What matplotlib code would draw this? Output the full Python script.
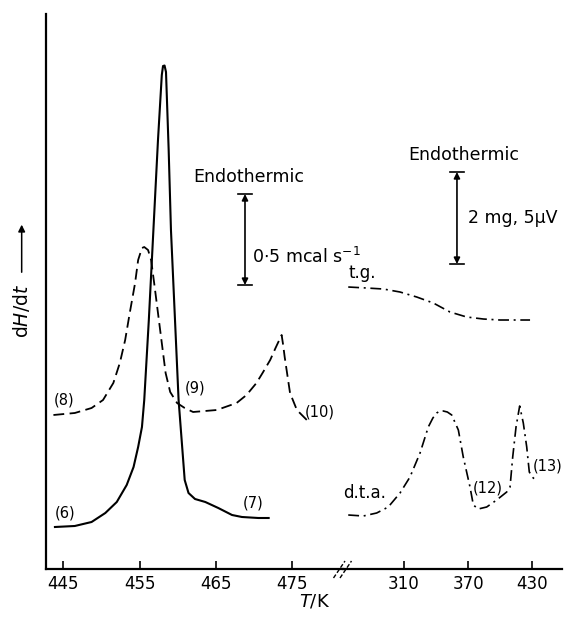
import matplotlib
matplotlib.use("Agg")
import matplotlib.pyplot as plt

plt.rcParams['font.family'] = ['DejaVu Sans']

# ---- data (T in K, signal in arbitrary units) ----
# run (6)-(7), solid
T_solid = [443.9, 446.5, 448.7, 450.5, 452.0, 453.3, 454.2, 454.8, 455.3, 455.6,
           456.2, 456.8, 457.4, 457.9, 458.06, 458.26, 458.45, 458.8, 459.1, 459.6,
           460.1, 460.3, 460.6, 460.9, 461.4, 462.25, 463.6, 465.3, 467.1, 468.4,
           470.55, 471.9]
h_solid = [4.2, 4.3, 4.7, 5.6, 6.7, 8.4, 10.2, 12.2, 14.2, 16.9,
           24.9, 33.9, 42.9, 49.4, 50.3, 50.35, 49.7, 41.9, 33.9, 25.4,
           16.9, 14.9, 11.9, 8.9, 7.6, 7.0, 6.7, 6.1, 5.4, 5.2,
           5.1, 5.1]

# run (8)-(9)-(10), dashed
T_dash = [443.7, 446.5, 448.7, 450.2, 451.55, 452.4, 453.1, 453.7, 454.4, 454.8,
          455.3, 455.6, 456.1, 456.5, 456.9, 457.4, 457.9, 458.4, 459.0, 459.9,
          460.9, 462.0, 465.1, 467.7, 469.0, 470.3, 471.1, 472.1, 472.8, 473.6,
          473.8, 474.0, 474.7, 475.6, 476.9]
h_dash = [15.4, 15.6, 16.1, 16.9, 18.6, 20.6, 22.9, 25.6, 28.6, 30.9,
          32.1, 32.2, 31.9, 30.9, 28.6, 25.6, 22.6, 19.6, 17.7, 16.6,
          16.1, 15.7, 15.9, 16.6, 17.4, 18.6, 19.6, 20.9, 22.1, 23.4,
          22.4, 21.2, 17.6, 15.9, 14.9]

# t.g. trace
T_tg = [257.9, 275.1, 290.7, 306.3, 321.9, 337.4, 353.0, 368.6, 384.1, 399.7, 427.8]
h_tg = [28.2, 28.1, 28.0, 27.7, 27.2, 26.6, 25.7, 25.2, 25.0, 24.9, 24.9]

# d.t.a. trace
T_dta = [257.9, 272.0, 284.5, 295.3, 306.3, 315.6, 325.0, 332.7, 337.0, 340.6,
         343.6, 346.7, 350.5, 354.6, 360.8, 365.4, 371.7, 374.8, 379.4, 387.3,
         396.6, 406.0, 409.1, 411.6, 414.7, 418.1, 421.5, 424.7, 427.1, 430.8,
         434.6]
h_dta = [5.4, 5.3, 5.6, 6.2, 7.6, 9.2, 11.6, 14.2, 15.1, 15.6,
         15.8, 15.8, 15.7, 15.4, 13.9, 11.2, 8.2, 6.4, 6.0, 6.2,
         6.9, 7.7, 8.2, 11.2, 14.2, 16.3, 14.6, 12.2, 9.7, 9.1,
         8.8]

left_ticks = [445, 455, 465, 475]
right_ticks = [310, 370, 430]

fig = plt.figure(figsize=(5.66, 6.18), dpi=100)
axL = fig.add_axes([0.0813, 0.0793, 0.5247, 0.898])
axR = fig.add_axes([0.606, 0.0793, 0.387, 0.898])

for ax in (axL, axR):
    ax.set_ylim(0, 55.5)
    ax.set_yticks([])
    ax.spines['top'].set_visible(False)
    ax.spines['right'].set_visible(False)
    ax.spines['bottom'].set_linewidth(1.6)
    ax.tick_params(axis='x', direction='in', length=6, width=1.2,
                   labelsize=12, pad=4)
    ax.patch.set_alpha(0)
axL.spines['left'].set_linewidth(1.6)
axR.spines['left'].set_visible(False)

axL.set_xlim(442.73, 481.64)
axR.set_xlim(253.0, 457.7)
axL.set_xticks(left_ticks)
axR.set_xticks(right_ticks)

axL.plot(T_solid, h_solid, color='black', lw=1.5, solid_joinstyle='round')
axL.plot(T_dash, h_dash, color='black', lw=1.3, dashes=(6, 3))
axR.plot(T_tg, h_tg, color='black', lw=1.2, dashes=(6.5, 2.8, 1.2, 2.8))
axR.plot(T_dta, h_dta, color='black', lw=1.2, dashes=(6.5, 2.8, 1.2, 2.8))

# curve labels
lab = dict(fontsize=10.5, va='center', ha='left')
axL.text(443.7, 16.9, '(8)', **lab)
axL.text(460.9, 18.1, '(9)', **lab)
axL.text(476.6, 15.7, '(10)', **lab)
axL.text(443.9, 5.6, '(6)', **lab)
axL.text(468.5, 6.6, '(7)', **lab)
axR.text(374.5, 8.1, '(12)', **lab)
axR.text(430.6, 10.3, '(13)', clip_on=False, **lab)
axR.text(257.9, 29.6, 't.g.', fontsize=12, va='center', ha='left')
axR.text(253.4, 7.6, 'd.t.a.', fontsize=12, va='center', ha='left')

# scale bars
def scale_bar(ax, x, y0, y1, half):
    ax.annotate('', xy=(x, y1), xytext=(x, y0),
                arrowprops=dict(arrowstyle='<|-|>', color='black', lw=1.2,
                                shrinkA=0, shrinkB=0, mutation_scale=9))
    ax.plot([x - half, x + half], [y1, y1], color='black', lw=1.2)
    ax.plot([x - half, x + half], [y0, y0], color='black', lw=1.2)

scale_bar(axL, 468.8, 28.4, 37.5, 0.9)
axL.text(469.3, 38.3, 'Endothermic', fontsize=12.5, ha='center', va='bottom')
axL.text(469.7, 31.2, r'0$\cdot$5 mcal s$^{-1}$', fontsize=12.5, ha='left', va='center')

scale_bar(axR, 359.5, 30.5, 39.7, 6.5)
axR.text(365.6, 40.5, 'Endothermic', fontsize=12.5, ha='center', va='bottom')
axR.text(370.1, 35.1, '2 mg, 5\u03bcV', fontsize=12.5, ha='left', va='center')

# axis break marks
for dx in (0, 6.5):
    fig.add_artist(plt.Line2D([(333.5 + dx) / 566, (345 + dx) / 566],
                              [(618 - 578) / 618, (618 - 561) / 618],
                              color='black', lw=1.0, dashes=(3, 1.5)))

# axis labels
fig.text(0.555, 0.026, r'$T$/K', fontsize=13, ha='center', va='center')
fig.text(0.0383, 0.497, r'd$H$/d$t$', fontsize=13.5, rotation=90,
         ha='center', va='center')
fig.add_artist(matplotlib.patches.FancyArrowPatch(
    (0.0383, 0.555), (0.0383, 0.641), transform=fig.transFigure,
    arrowstyle='-|>', mutation_scale=10, color='black', lw=1.1))

fig.savefig('out.png', dpi=100)
